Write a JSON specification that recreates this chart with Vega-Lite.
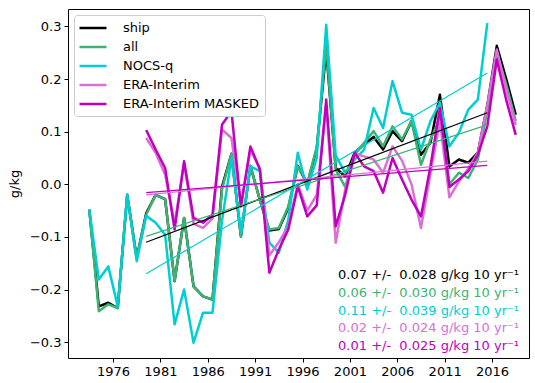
{
  "$schema": "https://vega.github.io/schema/vega-lite/v6.json",
  "width": 461,
  "height": 349,
  "autosize": {"type": "none"},
  "padding": {"left": 68, "top": 9, "right": 6, "bottom": 25},
  "background": "white",
  "config": {
    "view": {"stroke": "black", "strokeWidth": 1},
    "font": "DejaVu Sans",
    "axis": {
      "domain": false, "grid": false, "tickColor": "black", "tickSize": 4, "tickWidth": 1,
      "labelFont": "DejaVu Sans", "labelFontSize": 13, "labelColor": "black", "labelPadding": 3,
      "titleFont": "DejaVu Sans", "titleFontSize": 13, "titleFontWeight": "normal", "titleColor": "black"
    }
  },
  "datasets": {
    "annual": [
      {"year": 1973.5, "ship": -0.048, "all": -0.048, "NOCS-q": -0.048, "ERA-Interim": null, "ERA-Interim MASKED": null},
      {"year": 1974.5, "ship": -0.232, "all": -0.241, "NOCS-q": -0.181, "ERA-Interim": null, "ERA-Interim MASKED": null},
      {"year": 1975.5, "ship": -0.225, "all": -0.228, "NOCS-q": -0.156, "ERA-Interim": null, "ERA-Interim MASKED": null},
      {"year": 1976.5, "ship": -0.235, "all": -0.235, "NOCS-q": -0.232, "ERA-Interim": null, "ERA-Interim MASKED": null},
      {"year": 1977.5, "ship": -0.020, "all": -0.020, "NOCS-q": -0.020, "ERA-Interim": null, "ERA-Interim MASKED": null},
      {"year": 1978.5, "ship": -0.140, "all": -0.140, "NOCS-q": -0.146, "ERA-Interim": null, "ERA-Interim MASKED": null},
      {"year": 1979.5, "ship": -0.055, "all": -0.058, "NOCS-q": -0.060, "ERA-Interim": 0.088, "ERA-Interim MASKED": 0.103},
      {"year": 1980.5, "ship": -0.020, "all": -0.020, "NOCS-q": -0.073, "ERA-Interim": 0.060, "ERA-Interim MASKED": 0.066},
      {"year": 1981.5, "ship": -0.028, "all": -0.028, "NOCS-q": -0.096, "ERA-Interim": 0.018, "ERA-Interim MASKED": 0.031},
      {"year": 1982.5, "ship": -0.184, "all": -0.184, "NOCS-q": -0.266, "ERA-Interim": -0.075, "ERA-Interim MASKED": -0.086},
      {"year": 1983.5, "ship": -0.064, "all": -0.064, "NOCS-q": -0.200, "ERA-Interim": 0.040, "ERA-Interim MASKED": 0.044},
      {"year": 1984.5, "ship": -0.194, "all": -0.194, "NOCS-q": -0.301, "ERA-Interim": -0.075, "ERA-Interim MASKED": -0.064},
      {"year": 1985.5, "ship": -0.213, "all": -0.213, "NOCS-q": -0.244, "ERA-Interim": -0.083, "ERA-Interim MASKED": -0.073},
      {"year": 1986.5, "ship": -0.219, "all": -0.219, "NOCS-q": -0.244, "ERA-Interim": -0.065, "ERA-Interim MASKED": -0.058},
      {"year": 1987.5, "ship": -0.005, "all": -0.010, "NOCS-q": -0.070, "ERA-Interim": 0.104, "ERA-Interim MASKED": 0.113},
      {"year": 1988.5, "ship": 0.058, "all": 0.058, "NOCS-q": 0.050, "ERA-Interim": 0.088, "ERA-Interim MASKED": 0.139},
      {"year": 1989.5, "ship": -0.099, "all": -0.099, "NOCS-q": -0.092, "ERA-Interim": -0.040, "ERA-Interim MASKED": -0.042},
      {"year": 1990.5, "ship": 0.035, "all": 0.035, "NOCS-q": 0.034, "ERA-Interim": 0.065, "ERA-Interim MASKED": 0.072},
      {"year": 1991.5, "ship": -0.030, "all": -0.030, "NOCS-q": 0.025, "ERA-Interim": 0.030, "ERA-Interim MASKED": 0.028},
      {"year": 1992.5, "ship": -0.088, "all": -0.086, "NOCS-q": -0.111, "ERA-Interim": -0.135, "ERA-Interim MASKED": -0.168},
      {"year": 1993.5, "ship": -0.085, "all": -0.083, "NOCS-q": -0.130, "ERA-Interim": -0.110, "ERA-Interim MASKED": -0.124},
      {"year": 1994.5, "ship": -0.045, "all": -0.042, "NOCS-q": -0.067, "ERA-Interim": -0.080, "ERA-Interim MASKED": -0.086},
      {"year": 1995.5, "ship": 0.035, "all": 0.034, "NOCS-q": 0.060, "ERA-Interim": 0.000, "ERA-Interim MASKED": -0.004},
      {"year": 1996.5, "ship": 0.000, "all": 0.003, "NOCS-q": -0.010, "ERA-Interim": -0.050, "ERA-Interim MASKED": -0.061},
      {"year": 1997.5, "ship": 0.068, "all": 0.070, "NOCS-q": 0.050, "ERA-Interim": -0.020, "ERA-Interim MASKED": -0.040},
      {"year": 1998.5, "ship": 0.255, "all": 0.265, "NOCS-q": 0.303, "ERA-Interim": 0.150, "ERA-Interim MASKED": 0.161},
      {"year": 1999.5, "ship": 0.031, "all": 0.028, "NOCS-q": 0.055, "ERA-Interim": -0.111, "ERA-Interim MASKED": -0.080},
      {"year": 2000.5, "ship": 0.015, "all": -0.005, "NOCS-q": 0.022, "ERA-Interim": -0.010, "ERA-Interim MASKED": -0.020},
      {"year": 2001.5, "ship": 0.060, "all": 0.056, "NOCS-q": 0.047, "ERA-Interim": 0.058, "ERA-Interim MASKED": 0.060},
      {"year": 2002.5, "ship": 0.076, "all": 0.079, "NOCS-q": 0.066, "ERA-Interim": 0.053, "ERA-Interim MASKED": 0.034},
      {"year": 2003.5, "ship": 0.090, "all": 0.101, "NOCS-q": 0.145, "ERA-Interim": 0.047, "ERA-Interim MASKED": 0.025},
      {"year": 2004.5, "ship": 0.066, "all": 0.072, "NOCS-q": 0.107, "ERA-Interim": 0.022, "ERA-Interim MASKED": -0.016},
      {"year": 2005.5, "ship": 0.101, "all": 0.110, "NOCS-q": 0.196, "ERA-Interim": 0.072, "ERA-Interim MASKED": 0.050},
      {"year": 2006.5, "ship": 0.082, "all": 0.085, "NOCS-q": 0.136, "ERA-Interim": 0.045, "ERA-Interim MASKED": 0.009},
      {"year": 2007.5, "ship": 0.120, "all": 0.120, "NOCS-q": 0.132, "ERA-Interim": 0.000, "ERA-Interim MASKED": -0.029},
      {"year": 2008.5, "ship": 0.056, "all": 0.037, "NOCS-q": 0.066, "ERA-Interim": -0.083, "ERA-Interim MASKED": -0.061},
      {"year": 2009.5, "ship": 0.079, "all": 0.085, "NOCS-q": 0.120, "ERA-Interim": 0.020, "ERA-Interim MASKED": 0.034},
      {"year": 2010.5, "ship": 0.170, "all": 0.125, "NOCS-q": 0.155, "ERA-Interim": 0.120, "ERA-Interim MASKED": 0.145},
      {"year": 2011.5, "ship": 0.034, "all": 0.000, "NOCS-q": 0.072, "ERA-Interim": -0.025, "ERA-Interim MASKED": -0.005},
      {"year": 2012.5, "ship": 0.047, "all": 0.022, "NOCS-q": 0.098, "ERA-Interim": 0.005, "ERA-Interim MASKED": 0.009},
      {"year": 2013.5, "ship": 0.041, "all": 0.012, "NOCS-q": 0.142, "ERA-Interim": 0.030, "ERA-Interim MASKED": 0.025},
      {"year": 2014.5, "ship": 0.060, "all": 0.047, "NOCS-q": 0.161, "ERA-Interim": 0.060, "ERA-Interim MASKED": 0.056},
      {"year": 2015.5, "ship": 0.150, "all": 0.140, "NOCS-q": 0.306, "ERA-Interim": 0.150, "ERA-Interim MASKED": 0.110},
      {"year": 2016.5, "ship": 0.263, "all": 0.250, "NOCS-q": null, "ERA-Interim": 0.256, "ERA-Interim MASKED": 0.237},
      {"year": 2017.5, "ship": 0.200, "all": 0.190, "NOCS-q": null, "ERA-Interim": 0.180, "ERA-Interim MASKED": 0.160},
      {"year": 2018.5, "ship": 0.132, "all": 0.120, "NOCS-q": null, "ERA-Interim": 0.113, "ERA-Interim MASKED": 0.094}
    ],
    "trend": [
      {"series": "ship", "year": 1979.5, "v": -0.110},
      {"series": "ship", "year": 2015.5, "v": 0.136},
      {"series": "all", "year": 1979.5, "v": -0.099},
      {"series": "all", "year": 2015.5, "v": 0.113},
      {"series": "NOCS-q", "year": 1979.5, "v": -0.170},
      {"series": "NOCS-q", "year": 2015.5, "v": 0.2115},
      {"series": "ERA-Interim", "year": 1979.5, "v": -0.020},
      {"series": "ERA-Interim", "year": 2015.5, "v": 0.044},
      {"series": "ERA-Interim MASKED", "year": 1979.5, "v": -0.016},
      {"series": "ERA-Interim MASKED", "year": 2015.5, "v": 0.036}
    ],
    "notes": [
      {"series": "ship", "year": 1999.75, "v": -0.173, "label": "0.07 +/-\u00a0 0.028 g/kg 10 yr⁻¹"},
      {"series": "all", "year": 1999.75, "v": -0.2065, "label": "0.06 +/-\u00a0 0.030 g/kg 10 yr⁻¹"},
      {"series": "NOCS-q", "year": 1999.75, "v": -0.240, "label": "0.11 +/-\u00a0 0.039 g/kg 10 yr⁻¹"},
      {"series": "ERA-Interim", "year": 1999.75, "v": -0.2735, "label": "0.02 +/-\u00a0 0.024 g/kg 10 yr⁻¹"},
      {"series": "ERA-Interim MASKED", "year": 1999.75, "v": -0.307, "label": "0.01 +/-\u00a0 0.025 g/kg 10 yr⁻¹"}
    ]
  },
  "encoding": {
    "x": {
      "field": "year", "type": "quantitative",
      "scale": {"domain": [1971.25, 2019.9], "nice": false, "zero": false},
      "axis": {"title": null, "values": [1976, 1981, 1986, 1991, 1996, 2001, 2006, 2011, 2016], "format": "d"}
    },
    "y": {
      "field": "v", "type": "quantitative",
      "scale": {"domain": [-0.33, 0.333], "nice": false, "zero": false},
      "axis": {"title": "g/kg", "values": [-0.3, -0.2, -0.1, 0, 0.1, 0.2, 0.3], "format": ".1f", "titlePadding": 8}
    },
    "color": {
      "field": "series", "type": "nominal",
      "scale": {
        "domain": ["ship", "all", "NOCS-q", "ERA-Interim", "ERA-Interim MASKED"],
        "range": ["#000000", "#3cb371", "#00ced1", "#da70d6", "#bf00bf"]
      },
      "legend": null
    }
  },
  "layer": [
    {
      "data": {"name": "annual"},
      "transform": [
        {"fold": ["ship", "all", "NOCS-q", "ERA-Interim", "ERA-Interim MASKED"], "as": ["series", "v"]},
        {"filter": "isValid(datum.v)"}
      ],
      "mark": {"type": "line", "strokeWidth": 2.5, "strokeJoin": "round"},
      "encoding": {
        "color": {
          "field": "series", "type": "nominal",
          "scale": {
            "domain": ["ship", "all", "NOCS-q", "ERA-Interim", "ERA-Interim MASKED"],
            "range": ["#000000", "#3cb371", "#00ced1", "#da70d6", "#bf00bf"]
          },
          "legend": {
            "title": null, "orient": "top-left", "offset": 6, "padding": 5,
            "fillColor": "white", "strokeColor": "#cccccc", "cornerRadius": 3,
            "symbolType": "M-2,0H2", "symbolSize": 182, "symbolStrokeWidth": 2.5,
            "symbolOffset": 6, "labelOffset": 22, "rowPadding": 4,
            "labelFont": "DejaVu Sans", "labelFontSize": 13, "labelColor": "black", "labelLimit": 300
          }
        }
      }
    },
    {
      "data": {"name": "trend"},
      "mark": {"type": "line", "strokeWidth": 1.2},
      "encoding": {}
    },
    {
      "data": {"name": "notes"},
      "mark": {"type": "text", "align": "left", "baseline": "middle", "fontSize": 13, "font": "DejaVu Sans"},
      "encoding": {"text": {"field": "label"}}
    }
  ]
}
